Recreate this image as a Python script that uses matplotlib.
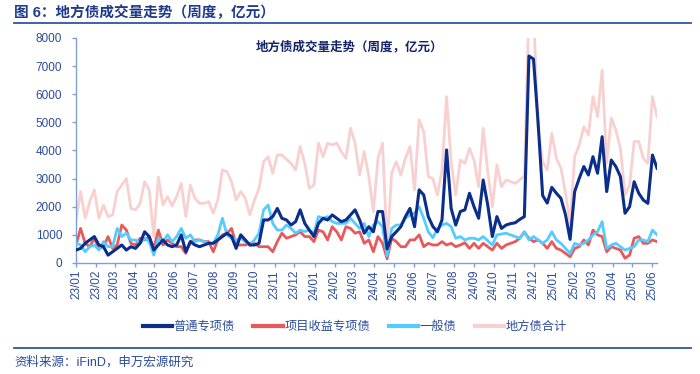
import numpy as np
import pandas as pd
import matplotlib
matplotlib.use('Agg')
import matplotlib.pyplot as plt
import matplotlib.dates as mdates
from matplotlib.lines import Line2D

plt.rcParams['font.family'] = ['Liberation Sans', 'Noto Sans CJK SC']

# weekly observations, 2023/01 - 2025/06
weeks = pd.date_range('2023-01-01', periods=128, freq='7D')

# 普通专项债 (亿元)
general_special = [
    460, 520, 700, 820, 940, 640, 580, 280, 400, 520, 640, 460, 580, 520, 700, 1110, 940, 460, 640, 820,
    640, 580, 640, 1000, 400,
    760, 640, 580, 640, 700, 700, 820, 940, 1060, 940, 520, 1000, 820, 640, 640, 700, 1530, 1530, 1650,
    1940, 1590, 1530, 1350, 1470, 1890, 1410, 1170, 940, 1410,
    1590, 1530, 1710, 1590, 1470, 1530, 1710, 1890, 1530, 1060, 1290, 1110, 1830, 1830, 500, 940, 1110,
    1290, 1650, 1940, 1290, 2600, 2420, 1650, 1300,
    1110, 1530, 4020, 1940, 1350, 1830, 1890, 2480, 2000, 1590, 2950, 2060, 940, 1650, 1230, 1350, 1400,
    1430, 1550, 1650, 7360, 7250, 5000,
    2400, 2130, 2690, 2480, 2300, 1710, 840, 2540, 3010, 3430, 3130, 3780, 3190, 4490, 2540, 3660, 3430,
    3070, 1770, 2000, 2890, 2480, 2240, 2120, 3840, 3370,
]

# 项目收益专项债
project_special = [
    640, 1230, 700, 580, 880, 520, 580, 940, 520, 640, 1350, 1170, 700, 640, 880, 820, 940, 520, 1170, 640,
    820, 700, 580, 580, 340,
    760, 820, 820, 760, 760, 400, 820, 1000, 1060, 1230, 640, 640, 640, 700, 700, 580, 580, 580, 400, 760,
    1060, 880, 940, 1000, 1110, 940, 940, 760, 1170,
    1110, 820, 1290, 1110, 820, 1290, 1230, 1060, 1110, 700, 820, 400, 940, 700, 150, 880, 760, 580, 580,
    820, 820, 1000, 580, 700, 640,
    640, 760, 640, 700, 580, 640, 720, 520, 700, 520, 700, 580, 460, 700, 520, 640, 700, 760, 880, 1100,
    880, 760, 820,
    700, 520, 760, 520, 460, 340, 220, 520, 580, 820, 640, 1170, 1000, 940, 400, 580, 520, 460, 170, 280,
    880, 940, 700, 700, 820, 760,
]

# 一般债
general_bond = [
    700, 640, 400, 580, 640, 460, 760, 580, 580, 1230, 940, 1060, 820, 820, 700, 880, 760, 280, 880, 760,
    1000, 760, 940, 1230, 880,
    1000, 760, 820, 760, 700, 700, 1000, 1590, 1000, 880, 820, 880, 760, 640, 820, 1060, 1890, 2060, 1410,
    1170, 1170, 1350, 1230, 1060, 1170, 1120, 1170, 1060, 1650,
    1590, 1650, 1470, 1410, 1410, 1410, 1590, 1410, 1230, 1410, 940, 1350, 1470, 1290, 250, 1230, 1350,
    1350, 1590, 1710, 1770, 2000, 1590, 1110, 900,
    1210, 1350, 1410, 1290, 880, 940, 820, 880, 880, 820, 940, 790, 640, 1000, 1030, 1060, 1000, 940, 880,
    1110, 820, 940, 820,
    700, 820, 1110, 820, 700, 520, 340, 700, 640, 700, 820, 1000, 1110, 1470, 520, 640, 700, 580, 460, 520,
    580, 820, 820, 760, 1170, 1000,
]

# 地方债合计
total = [
    1530, 2540, 1590, 2180, 2600, 1590, 2060, 1650, 1710, 2540, 2770, 3010, 1940, 1890, 2120, 2890, 2600,
    940, 3050, 2060, 2360, 2030, 2360, 2830, 1650,
    2770, 2300, 2120, 2120, 2180, 1770, 2240, 3310, 3250, 2890, 2240, 2540, 2300, 1710, 2240, 2650, 3600,
    3780, 3190, 3840, 3840, 3690, 3540, 3310, 4140, 3540, 2650, 2770, 4260,
    3780, 4260, 4200, 4260, 3960, 3720, 4790, 4260, 3130, 3960, 3070, 1830, 3720, 4260, 600, 3190, 3600,
    3130, 3720, 4140, 2600, 5090, 4670, 3070, 3000,
    2420, 3310, 5915, 3600, 2420, 3660, 3540, 4080, 3660, 2715, 4790, 3250, 2000, 3490, 2715, 2950, 2890,
    2830, 2950, 3100, 9060, 8950, 4800,
    3600, 3310, 4610, 3720, 3370, 2480, 1410, 3780, 4200, 4850, 4550, 5915, 5200, 6860, 3540, 5150, 4730,
    4080, 2420, 2770, 4320, 4320, 3720, 3540, 5915, 5200,
]

navy = '#0b2e8a'
red = '#e8595a'
cyan = '#55ccff'
pink = '#f9d0d0'
txt = '#2b4c9b'

fig = plt.figure(figsize=(7, 3.74), dpi=100)
ax = fig.add_axes([0.1086, 0.2968, 0.83, 0.6016])

ax.plot(weeks, total, color=pink, lw=2.0, zorder=1)
ax.plot(weeks, project_special, color=red, lw=2.0, zorder=2)
ax.plot(weeks, general_bond, color=cyan, lw=2.0, zorder=3)
ax.plot(weeks, general_special, color=navy, lw=2.2, zorder=4)

ax.set_ylim(0, 8000)
ax.set_yticks(np.arange(0, 8001, 1000))
ax.set_xlim(weeks[0], weeks[-1])
ax.xaxis.set_major_locator(mdates.MonthLocator())
ax.xaxis.set_major_formatter(mdates.DateFormatter('%y/%m'))

for s in ['top', 'right']:
    ax.spines[s].set_visible(False)
for s in ['left', 'bottom']:
    ax.spines[s].set_color('#7f9fd9')
    ax.spines[s].set_linewidth(1.0)

ax.tick_params(axis='y', colors='#7f9fd9', length=3, width=1, pad=7, labelcolor=txt, labelsize=8.5)
ax.tick_params(axis='x', colors='#7f9fd9', length=3, width=1, pad=2, labelcolor=txt, labelsize=8.5,
               labelrotation=90)

ax.text(0.5, 0.874, '地方债成交量走势（周度，亿元）', transform=fig.transFigure, ha='center', va='center',
        fontsize=9, fontweight='bold', color='#13246b')

# header and footer
fig.text(0.02, 0.966, '图 6：地方债成交量走势（周度，亿元）', ha='left', va='center',
         fontsize=10.5, fontweight='bold', color='#1f3a8a')
fig.add_artist(Line2D([0.02, 0.987], [0.938, 0.938], transform=fig.transFigure, color='#2f55a4', lw=1.3))
fig.add_artist(Line2D([0.02, 0.987], [0.07, 0.07], transform=fig.transFigure, color='#2f55a4', lw=1.3))
fig.text(0.02, 0.032, '资料来源：iFinD，申万宏源研究', ha='left', va='center', fontsize=9, color=txt)

handles = [Line2D([], [], color=navy, lw=3), Line2D([], [], color=red, lw=3),
           Line2D([], [], color=cyan, lw=3), Line2D([], [], color=pink, lw=3)]
labels = ['普通专项债', '项目收益专项债', '一般债', '地方债合计']
fig.legend(handles, labels, loc='center', bbox_to_anchor=(0.507, 0.126), ncol=4, frameon=False,
           fontsize=8.8, handlelength=2.4, handletextpad=0.15, columnspacing=1.5, labelcolor=txt)

fig.savefig('out.png', dpi=100)
